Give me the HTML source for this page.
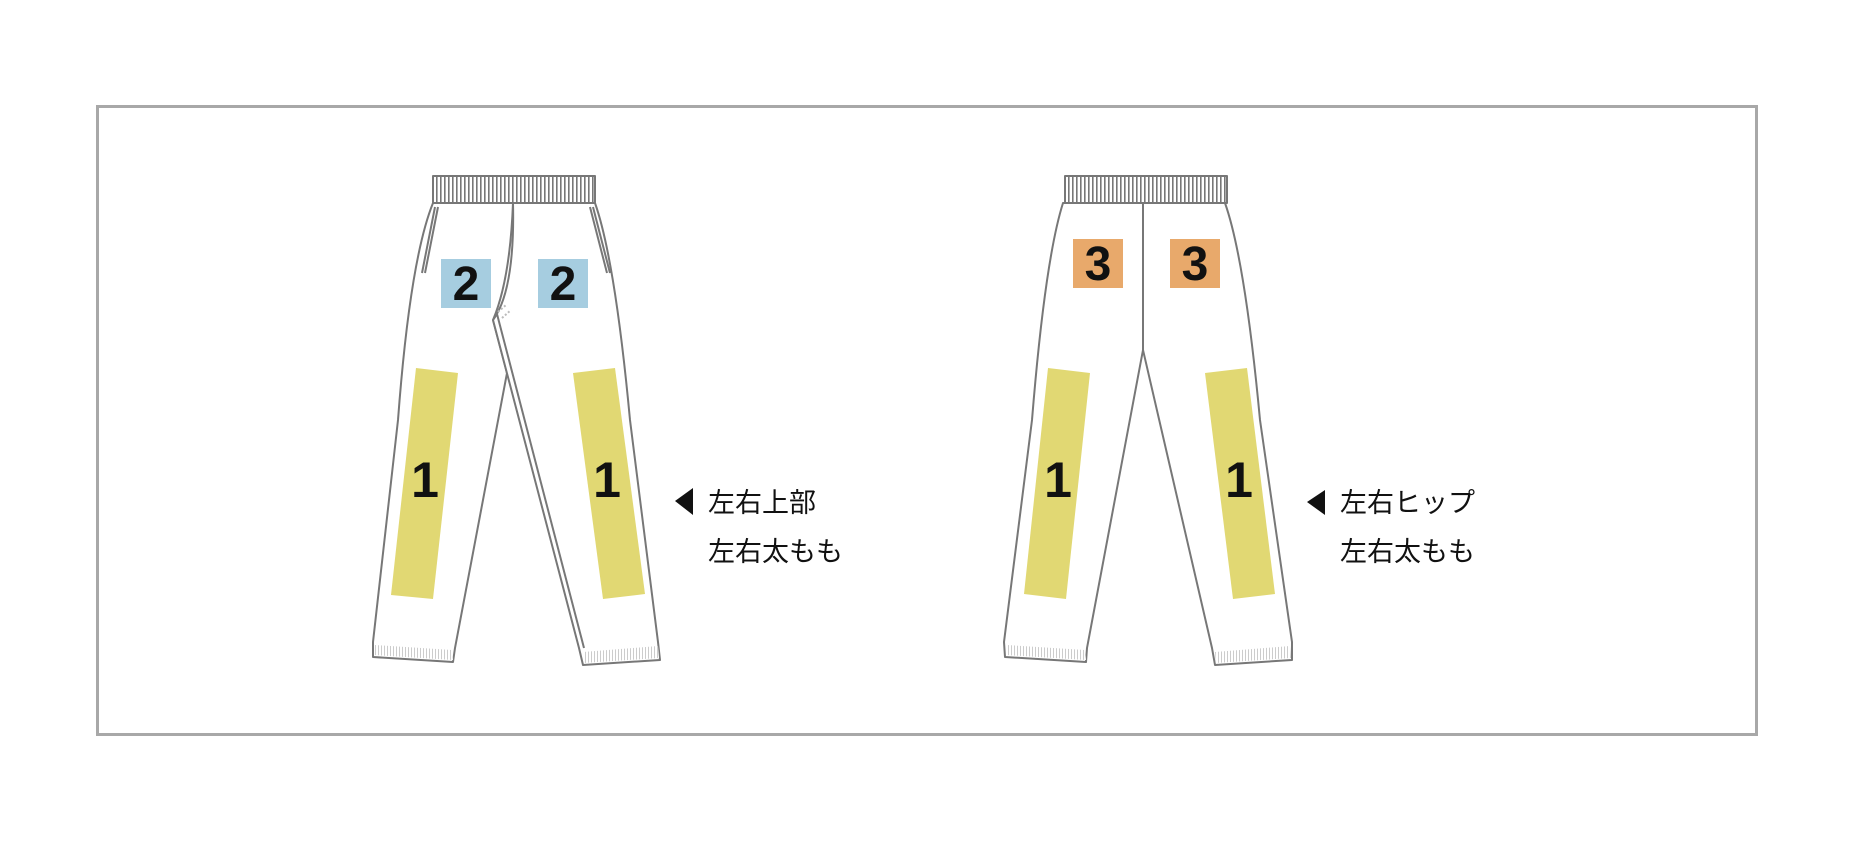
<!DOCTYPE html>
<html><head><meta charset="utf-8"><style>
html,body{margin:0;padding:0;background:#fff;}
svg{display:block;}
text.n{font-family:"Liberation Sans",sans-serif;font-weight:bold;fill:#111;text-anchor:middle;}
text.j{font-family:"Liberation Sans","Noto Sans CJK JP",sans-serif;fill:#111;font-size:27px;}
</style></head><body>
<svg width="1855" height="842" viewBox="0 0 1855 842" xmlns="http://www.w3.org/2000/svg">
<defs>
<pattern id="rib" width="4" height="40" patternUnits="userSpaceOnUse"><rect width="4" height="40" fill="#fff"/><rect x="0" width="1.6" height="40" fill="#777"/></pattern>
<pattern id="cuff" width="3" height="20" patternUnits="userSpaceOnUse"><rect width="3" height="20" fill="#fff"/><rect x="0" width="1" height="20" fill="#ccc"/></pattern>
</defs>
<rect x="97.5" y="106.5" width="1659" height="628" fill="#fff" stroke="#a8a8a8" stroke-width="3"/>

<!-- LEFT PANTS -->
<g fill="none" stroke="#777" stroke-width="2" stroke-linejoin="round">
<path d="M433,203 Q410,260 398,420 L373,642 L373,657 L453,662 L455,648 L507,373 L493,320" fill="#fff"/>
<path d="M595,203 Q615,260 630,420 L658,642 L660,660 L583,665 L579,648 L493,320 Q510,280 513,203 Z" fill="#fff"/>
<path d="M433,203 L595,203"/>
<path d="M513,203 Q515,290 493,320"/>
<path d="M497,314 L584,648"/>
<path d="M435,207 L422,273"/>
<path d="M438,207 L425,273"/>
<path d="M593,207 L610,273"/>
<path d="M590,207 L607,273"/>
<path d="M498,312 L506,305 M502,318 L511,310" stroke="#bbb" stroke-dasharray="2,2"/>
<rect x="433" y="176" width="162" height="27" fill="url(#rib)"/>
<path d="M375,645 L452,650 L453,660 L374,655 Z" fill="url(#cuff)" stroke="none"/>
<path d="M583,652 L658,646 L659,658 L584,663 Z" fill="url(#cuff)" stroke="none"/>
</g>
<polygon points="416,368 458,373 433,599 391,595" fill="#e1d873"/>
<polygon points="573,373 615,368 645,594 603,599" fill="#e1d873"/>
<rect x="441" y="259" width="50" height="49" fill="#a6cde0"/>
<rect x="538" y="259" width="50" height="49" fill="#a6cde0"/>
<text class="n" x="466" y="300" font-size="48">2</text>
<text class="n" x="563" y="300" font-size="48">2</text>
<text class="n" x="425" y="497" font-size="50">1</text>
<text class="n" x="607" y="497" font-size="50">1</text>
<polygon points="693,488 693,515 675,501" fill="#111"/>
<text class="j" x="708" y="512">左右上部</text>
<text class="j" x="708" y="561">左右太もも</text>

<!-- RIGHT PANTS -->
<g fill="none" stroke="#777" stroke-width="2" stroke-linejoin="round">
<path d="M1063,203 Q1045,260 1032,420 L1004,642 L1005,657 L1086,662 L1087,648 L1143,350 L1143,203 Z" fill="#fff"/>
<path d="M1225,203 Q1245,260 1260,420 L1292,642 L1292,660 L1215,665 L1212,648 L1143,350 L1143,203 Z" fill="#fff"/>
<rect x="1065" y="176" width="162" height="27" fill="url(#rib)"/>
<path d="M1007,645 L1085,650 L1086,660 L1006,655 Z" fill="url(#cuff)" stroke="none"/>
<path d="M1215,652 L1290,646 L1291,658 L1216,663 Z" fill="url(#cuff)" stroke="none"/>
</g>
<polygon points="1048,368 1090,373 1066,599 1024,594" fill="#e1d873"/>
<polygon points="1205,373 1247,368 1275,594 1233,599" fill="#e1d873"/>
<rect x="1073" y="239" width="50" height="49" fill="#e8a96b"/>
<rect x="1170" y="239" width="50" height="49" fill="#e8a96b"/>
<text class="n" x="1098" y="280" font-size="48">3</text>
<text class="n" x="1195" y="280" font-size="48">3</text>
<text class="n" x="1058" y="497" font-size="50">1</text>
<text class="n" x="1239" y="497" font-size="50">1</text>
<polygon points="1325,490 1325,515 1307,502" fill="#111"/>
<text class="j" x="1340" y="512">左右ヒップ</text>
<text class="j" x="1340" y="561">左右太もも</text>
</svg>
</body></html>
